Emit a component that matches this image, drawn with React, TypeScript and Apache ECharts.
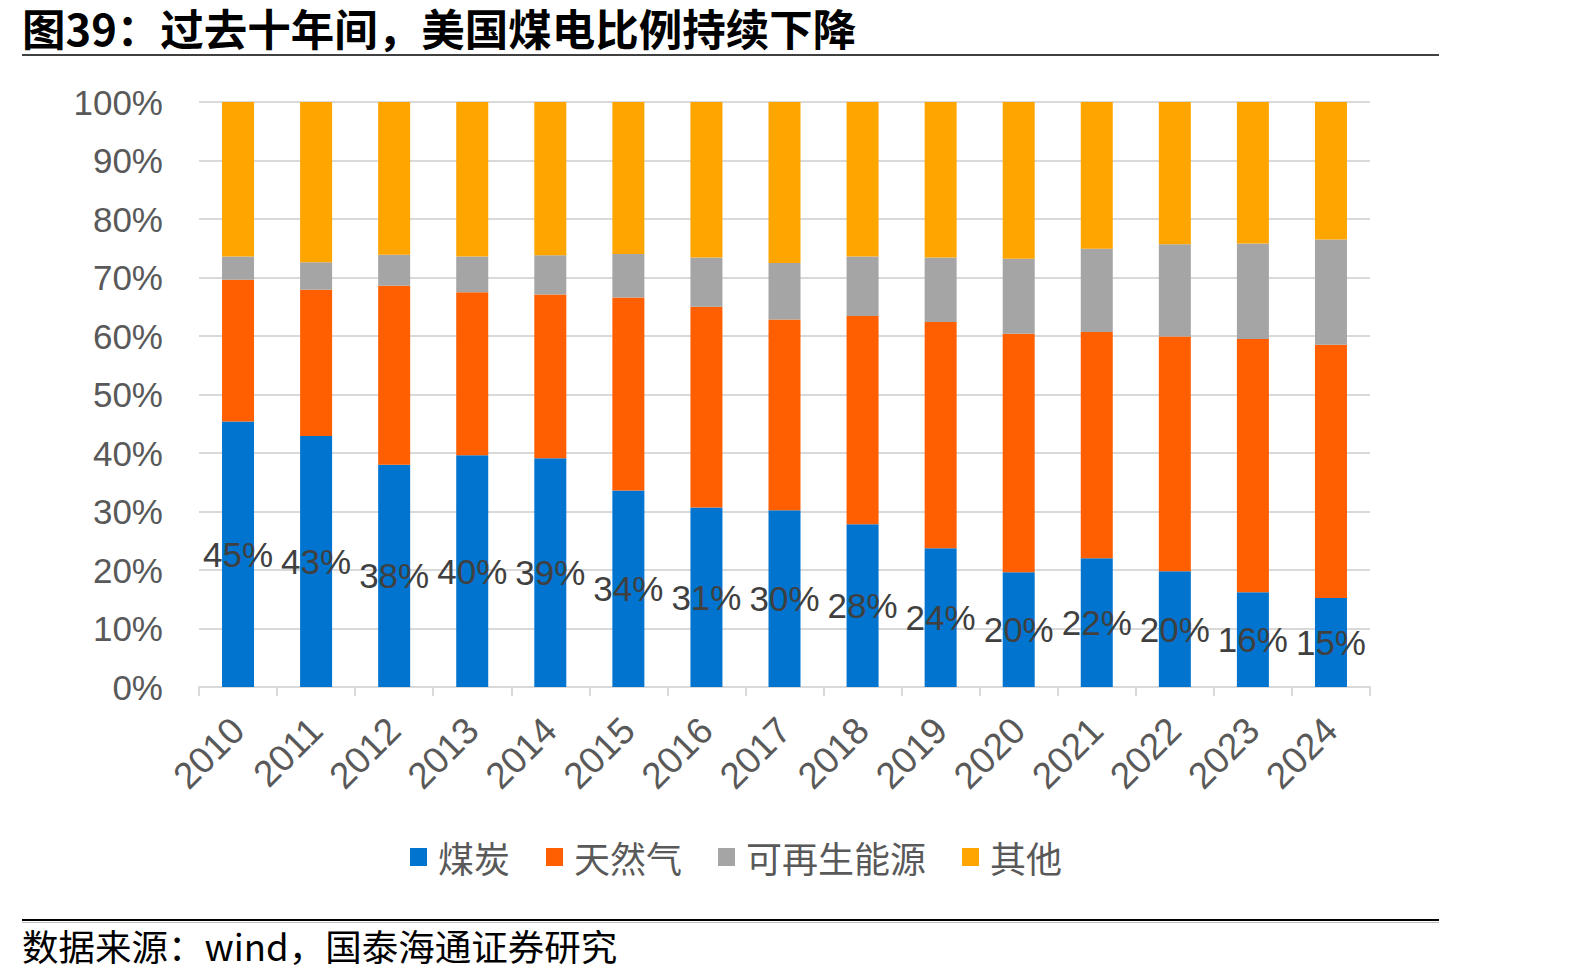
import React, { useEffect, useRef } from "react";
import * as echarts from "echarts";

// 美国发电结构（%）
const years = ["2010", "2011", "2012", "2013", "2014", "2015", "2016", "2017", "2018", "2019", "2020", "2021", "2022", "2023", "2024"];
const coal = [45.4, 42.9, 38.0, 39.6, 39.1, 33.6, 30.7, 30.2, 27.8, 23.7, 19.6, 22.0, 19.8, 16.2, 15.2];
const gas = [24.2, 25.0, 30.6, 27.9, 28.0, 33.0, 34.3, 32.6, 35.6, 38.7, 40.8, 38.7, 40.1, 43.3, 43.3];
const renewable = [4.0, 4.7, 5.3, 6.1, 6.7, 7.4, 8.4, 9.7, 10.2, 11.0, 12.8, 14.2, 15.8, 16.3, 18.0];
const other = [26.4, 27.4, 26.1, 26.4, 26.2, 26.0, 26.6, 27.5, 26.4, 26.6, 26.8, 25.1, 24.3, 24.2, 23.5];

const seriesNames = ["煤炭", "天然气", "可再生能源", "其他"];
const colors = ["#0074CF", "#FF5F00", "#A5A5A5", "#FFA500"];

const title = "图39：过去十年间，美国煤电比例持续下降";
const source = "数据来源：wind，国泰海通证券研究";

const latin = "'Liberation Sans', Arial, sans-serif";
const cjk = "'Noto Sans CJK SC', sans-serif";

export default function App() {
  const ref = useRef<HTMLDivElement>(null);

  useEffect(() => {
    if (!ref.current) return;
    const chart = echarts.init(ref.current, null, { renderer: "svg" });
    const dataSets = [coal, gas, renewable, other];

    chart.setOption({
      animation: false,
      backgroundColor: "#ffffff",
      color: colors,
      grid: { left: 199, right: 224, top: 102, bottom: 292, containLabel: false },
      legend: {
        data: seriesNames,
        left: 405,
        top: 834,
        icon: "rect",
        itemWidth: 17,
        itemHeight: 18,
        itemGap: 36,
        textStyle: { fontFamily: cjk, fontSize: 36, color: "#595959", padding: [0, 0, 0, 6] },
      },
      xAxis: {
        type: "category",
        data: years,
        axisLine: { lineStyle: { color: "#D9D9D9", width: 2 } },
        axisTick: { show: true, length: 9, lineStyle: { color: "#D9D9D9", width: 2 } },
        axisLabel: {
          rotate: 45,
          margin: 37,
          fontFamily: latin,
          fontSize: 37,
          color: "#595959",
        },
      },
      yAxis: {
        type: "value",
        min: 0,
        max: 100,
        interval: 10,
        axisLine: { show: false },
        axisTick: { show: false },
        splitLine: { lineStyle: { color: "#D9D9D9", width: 2 } },
        axisLabel: {
          formatter: "{value}%",
          margin: 36,
          fontFamily: latin,
          fontSize: 35,
          color: "#595959",
        },
      },
      series: seriesNames.map((name, i) => ({
        name,
        type: "bar",
        stack: "total",
        barWidth: 32,
        data: dataSets[i],
        itemStyle: { color: colors[i] },
        label:
          i === 0
            ? {
                show: true,
                position: "inside",
                fontFamily: latin,
                fontSize: 35,
                color: "#404040",
                formatter: (p: any) => `${Math.round(p.value)}%`,
              }
            : { show: false },
      })),
      graphic: [
        {
          type: "text",
          left: 22,
          top: 4,
          style: {
            text: title,
            fontFamily: cjk,
            fontWeight: "bold",
            fontSize: 43.5,
            lineHeight: 46,
            fill: "#000000",
          },
        },
        {
          type: "line",
          shape: { x1: 22, y1: 55, x2: 1439, y2: 55 },
          style: { stroke: "#000000", lineWidth: 1.5 },
        },
        {
          type: "line",
          shape: { x1: 22, y1: 920, x2: 1439, y2: 920 },
          style: { stroke: "#000000", lineWidth: 2 },
        },
        {
          type: "line",
          shape: { x1: 22, y1: 922.5, x2: 1439, y2: 922.5 },
          style: { stroke: "#BFBFBF", lineWidth: 1 },
        },
        {
          type: "text",
          x: 22,
          y: 945,
          style: {
            text: source,
            fontFamily: cjk,
            fontSize: 36.5,
            lineHeight: 40,
            fill: "#000000",
            verticalAlign: "middle",
          },
        },
      ],
    });

    return () => chart.dispose();
  }, []);

  return (
    <div
      ref={ref}
      style={{ position: "absolute", left: 0, top: 0, width: 1594, height: 979 }}
    />
  );
}
